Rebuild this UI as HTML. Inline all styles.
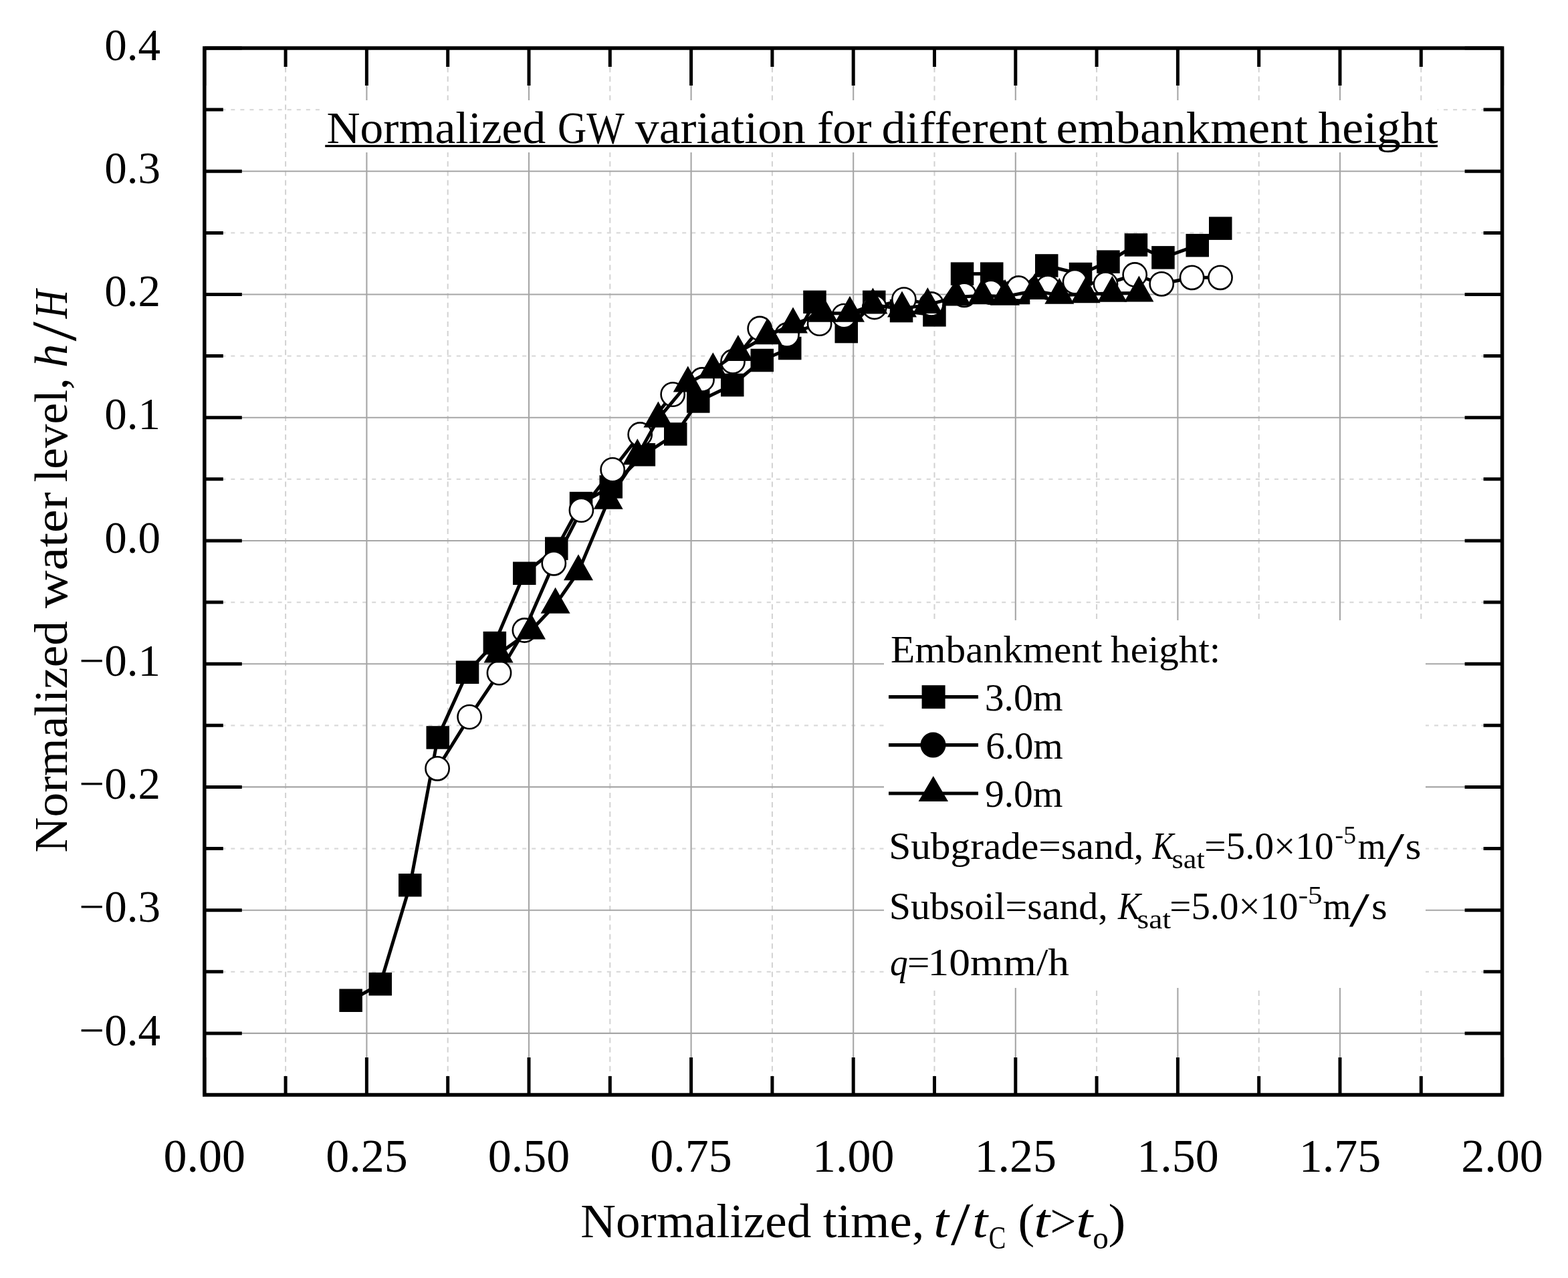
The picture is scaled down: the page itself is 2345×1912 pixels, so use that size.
<!DOCTYPE html>
<html><head><meta charset="utf-8"><title>Normalized GW variation for different embankment height</title>
<style>html,body{margin:0;padding:0;background:#fff}body{width:2345px;height:1912px;overflow:hidden}svg{display:block}</style>
</head><body>
<svg xmlns="http://www.w3.org/2000/svg" width="2345" height="1912" viewBox="0 0 2345 1912" font-family="Liberation Serif, serif">
<rect x="0" y="0" width="2345" height="1912" fill="#fff"/>
<path d="M427.1 72.0V1638.0 M669.7 72.0V1638.0 M912.3 72.0V1638.0 M1154.9 72.0V1638.0 M1397.5 72.0V1638.0 M1640.1 72.0V1638.0 M1882.7 72.0V1638.0 M2125.3 72.0V1638.0" stroke="#d2d2d2" stroke-width="2.0" stroke-dasharray="8 6.1" fill="none"/>
<path d="M305.8 164.1H2246.6 M305.8 348.4H2246.6 M305.8 532.6H2246.6 M305.8 716.8H2246.6 M305.8 901.1H2246.6 M305.8 1085.3H2246.6 M305.8 1269.6H2246.6 M305.8 1453.8H2246.6" stroke="#dadada" stroke-width="2.2" stroke-dasharray="6 8.06" stroke-dashoffset="2.66" fill="none"/>
<path d="M548.4 72.0V1638.0 M791.0 72.0V1638.0 M1033.6 72.0V1638.0 M1276.2 72.0V1638.0 M1518.8 72.0V1638.0 M1761.4 72.0V1638.0 M2004.0 72.0V1638.0 M305.8 256.2H2246.6 M305.8 440.5H2246.6 M305.8 624.7H2246.6 M305.8 809.0H2246.6 M305.8 993.2H2246.6 M305.8 1177.4H2246.6 M305.8 1361.7H2246.6 M305.8 1545.9H2246.6" stroke="#a6a6a6" stroke-width="2.1" fill="none"/>
<rect x="483" y="150" width="1667" height="78" fill="#fff"/>
<rect x="1322" y="928" width="810" height="550" fill="#fff"/>
<path d="M305.8 72.0v56M305.8 1638.0v-56M548.4 72.0v56M548.4 1638.0v-56M791.0 72.0v56M791.0 1638.0v-56M1033.6 72.0v56M1033.6 1638.0v-56M1276.2 72.0v56M1276.2 1638.0v-56M1518.8 72.0v56M1518.8 1638.0v-56M1761.4 72.0v56M1761.4 1638.0v-56M2004.0 72.0v56M2004.0 1638.0v-56M2246.6 72.0v56M2246.6 1638.0v-56M427.1 72.0v28M427.1 1638.0v-28M669.7 72.0v28M669.7 1638.0v-28M912.3 72.0v28M912.3 1638.0v-28M1154.9 72.0v28M1154.9 1638.0v-28M1397.5 72.0v28M1397.5 1638.0v-28M1640.1 72.0v28M1640.1 1638.0v-28M1882.7 72.0v28M1882.7 1638.0v-28M2125.3 72.0v28M2125.3 1638.0v-28M305.8 72.0h56M2246.6 72.0h-56M305.8 256.2h56M2246.6 256.2h-56M305.8 440.5h56M2246.6 440.5h-56M305.8 624.7h56M2246.6 624.7h-56M305.8 809.0h56M2246.6 809.0h-56M305.8 993.2h56M2246.6 993.2h-56M305.8 1177.4h56M2246.6 1177.4h-56M305.8 1361.7h56M2246.6 1361.7h-56M305.8 1545.9h56M2246.6 1545.9h-56M305.8 164.1h28M2246.6 164.1h-28M305.8 348.4h28M2246.6 348.4h-28M305.8 532.6h28M2246.6 532.6h-28M305.8 716.8h28M2246.6 716.8h-28M305.8 901.1h28M2246.6 901.1h-28M305.8 1085.3h28M2246.6 1085.3h-28M305.8 1269.6h28M2246.6 1269.6h-28M305.8 1453.8h28M2246.6 1453.8h-28" stroke="#000" stroke-width="5" fill="none"/>
<rect x="305.8" y="72.0" width="1940.8" height="1566.0" fill="none" stroke="#000" stroke-width="5.5"/>
<polyline points="524.6,1496.7 568.7,1472.3 613.3,1324.3 654.7,1103.4 699.0,1005.8 739.9,962.0 784.2,857.8 832.2,820.6 869.0,753.0 913.7,728.4 962.9,680.2 1010.3,649.5 1044.3,600.5 1095.2,576.0 1139.7,539.0 1181.3,521.0 1218.5,451.8 1265.8,496.0 1307.3,451.8 1348.0,465.0 1397.5,471.3 1439.0,409.7 1483.2,409.6 1523.0,438.0 1565.2,397.5 1616.0,410.0 1657.5,391.6 1698.9,366.5 1739.5,385.4 1790.8,367.1 1825.2,341.7" fill="none" stroke="#000" stroke-width="5.0" stroke-linejoin="round"/>
<g fill="#000"><rect x="507.4" y="1479.5" width="34.5" height="34.5"/><rect x="551.5" y="1455.0" width="34.5" height="34.5"/><rect x="596.0" y="1307.0" width="34.5" height="34.5"/><rect x="637.5" y="1086.2" width="34.5" height="34.5"/><rect x="681.8" y="988.5" width="34.5" height="34.5"/><rect x="722.6" y="944.8" width="34.5" height="34.5"/><rect x="767.0" y="840.5" width="34.5" height="34.5"/><rect x="815.0" y="803.4" width="34.5" height="34.5"/><rect x="851.8" y="735.8" width="34.5" height="34.5"/><rect x="896.5" y="711.1" width="34.5" height="34.5"/><rect x="945.6" y="663.0" width="34.5" height="34.5"/><rect x="993.0" y="632.2" width="34.5" height="34.5"/><rect x="1027.0" y="583.2" width="34.5" height="34.5"/><rect x="1078.0" y="558.8" width="34.5" height="34.5"/><rect x="1122.5" y="521.8" width="34.5" height="34.5"/><rect x="1164.0" y="503.8" width="34.5" height="34.5"/><rect x="1201.2" y="434.6" width="34.5" height="34.5"/><rect x="1248.5" y="478.8" width="34.5" height="34.5"/><rect x="1290.0" y="434.6" width="34.5" height="34.5"/><rect x="1330.8" y="447.8" width="34.5" height="34.5"/><rect x="1380.2" y="454.1" width="34.5" height="34.5"/><rect x="1421.8" y="392.4" width="34.5" height="34.5"/><rect x="1466.0" y="392.4" width="34.5" height="34.5"/><rect x="1505.8" y="420.8" width="34.5" height="34.5"/><rect x="1548.0" y="380.2" width="34.5" height="34.5"/><rect x="1598.8" y="392.8" width="34.5" height="34.5"/><rect x="1640.2" y="374.4" width="34.5" height="34.5"/><rect x="1681.7" y="349.2" width="34.5" height="34.5"/><rect x="1722.2" y="368.1" width="34.5" height="34.5"/><rect x="1773.5" y="349.9" width="34.5" height="34.5"/><rect x="1808.0" y="324.4" width="34.5" height="34.5"/></g>
<polyline points="654.1,1149.8 702.1,1072.6 746.5,1006.7 784.4,943.0 828.3,842.8 869.4,763.2 916.2,702.8 957.2,650.0 1006.2,590.1 1050.0,568.0 1096.0,541.0 1136.2,491.5 1177.0,501.0 1225.6,484.2 1262.2,472.6 1307.8,459.5 1351.9,448.1 1393.0,455.0 1442.0,441.4 1482.0,437.4 1523.4,431.0 1567.0,430.0 1607.5,421.6 1653.5,425.0 1697.2,411.0 1737.2,424.8 1782.6,415.3 1825.0,415.3" fill="none" stroke="#000" stroke-width="5.0" stroke-linejoin="round"/>
<g fill="#fff" stroke="#000" stroke-width="2.6"><circle cx="654.1" cy="1149.8" r="17.6"/><circle cx="702.1" cy="1072.6" r="17.6"/><circle cx="746.5" cy="1006.7" r="17.6"/><circle cx="784.4" cy="943.0" r="17.6"/><circle cx="828.3" cy="842.8" r="17.6"/><circle cx="869.4" cy="763.2" r="17.6"/><circle cx="916.2" cy="702.8" r="17.6"/><circle cx="957.2" cy="650.0" r="17.6"/><circle cx="1006.2" cy="590.1" r="17.6"/><circle cx="1050.0" cy="568.0" r="17.6"/><circle cx="1096.0" cy="541.0" r="17.6"/><circle cx="1136.2" cy="491.5" r="17.6"/><circle cx="1177.0" cy="501.0" r="17.6"/><circle cx="1225.6" cy="484.2" r="17.6"/><circle cx="1262.2" cy="472.6" r="17.6"/><circle cx="1307.8" cy="459.5" r="17.6"/><circle cx="1351.9" cy="448.1" r="17.6"/><circle cx="1393.0" cy="455.0" r="17.6"/><circle cx="1442.0" cy="441.4" r="17.6"/><circle cx="1482.0" cy="437.4" r="17.6"/><circle cx="1523.4" cy="431.0" r="17.6"/><circle cx="1567.0" cy="430.0" r="17.6"/><circle cx="1607.5" cy="421.6" r="17.6"/><circle cx="1653.5" cy="425.0" r="17.6"/><circle cx="1697.2" cy="411.0" r="17.6"/><circle cx="1737.2" cy="424.8" r="17.6"/><circle cx="1782.6" cy="415.3" r="17.6"/><circle cx="1825.0" cy="415.3" r="17.6"/></g>
<polyline points="745.6,978.4 794.0,943.5 830.6,904.7 865.0,855.3 909.7,748.7 953.3,682.2 984.4,626.5 1028.8,573.4 1066.3,553.3 1103.9,527.0 1147.5,502.2 1186.0,485.6 1231.0,468.7 1271.0,468.7 1305.4,456.5 1349.0,461.6 1387.3,456.1 1430.5,444.4 1469.2,442.2 1503.0,443.7 1547.4,435.1 1584.3,441.7 1623.6,440.2 1663.4,438.8 1703.4,438.6" fill="none" stroke="#000" stroke-width="5.0" stroke-linejoin="round"/>
<g fill="#000"><path d="M745.6 952.4L767.6 991.4H723.6Z"/><path d="M794.0 917.5L816.0 956.5H772.0Z"/><path d="M830.6 878.7L852.6 917.7H808.6Z"/><path d="M865.0 829.3L887.0 868.3H843.0Z"/><path d="M909.7 722.7L931.7 761.7H887.7Z"/><path d="M953.3 656.2L975.3 695.2H931.3Z"/><path d="M984.4 600.5L1006.4 639.5H962.4Z"/><path d="M1028.8 547.4L1050.8 586.4H1006.8Z"/><path d="M1066.3 527.3L1088.3 566.3H1044.3Z"/><path d="M1103.9 501.0L1125.9 540.0H1081.9Z"/><path d="M1147.5 476.2L1169.5 515.2H1125.5Z"/><path d="M1186.0 459.6L1208.0 498.6H1164.0Z"/><path d="M1231.0 442.7L1253.0 481.7H1209.0Z"/><path d="M1271.0 442.7L1293.0 481.7H1249.0Z"/><path d="M1305.4 430.5L1327.4 469.5H1283.4Z"/><path d="M1349.0 435.6L1371.0 474.6H1327.0Z"/><path d="M1387.3 430.1L1409.3 469.1H1365.3Z"/><path d="M1430.5 418.4L1452.5 457.4H1408.5Z"/><path d="M1469.2 416.2L1491.2 455.2H1447.2Z"/><path d="M1503.0 417.7L1525.0 456.7H1481.0Z"/><path d="M1547.4 409.1L1569.4 448.1H1525.4Z"/><path d="M1584.3 415.7L1606.3 454.7H1562.3Z"/><path d="M1623.6 414.2L1645.6 453.2H1601.6Z"/><path d="M1663.4 412.8L1685.4 451.8H1641.4Z"/><path d="M1703.4 412.6L1725.4 451.6H1681.4Z"/></g>
<text x="240" y="89.6" font-size="67" text-anchor="end">0.4</text>
<text x="240" y="273.8" font-size="67" text-anchor="end">0.3</text>
<text x="240" y="458.1" font-size="67" text-anchor="end">0.2</text>
<text x="240" y="642.3" font-size="67" text-anchor="end">0.1</text>
<text x="240" y="826.6" font-size="67" text-anchor="end">0.0</text>
<text x="240" y="1010.8" font-size="67" text-anchor="end">−0.1</text>
<text x="240" y="1195.0" font-size="67" text-anchor="end">−0.2</text>
<text x="240" y="1379.3" font-size="67" text-anchor="end">−0.3</text>
<text x="240" y="1563.5" font-size="67" text-anchor="end">−0.4</text>
<text x="305.8" y="1752.5" font-size="70" text-anchor="middle">0.00</text>
<text x="548.4" y="1752.5" font-size="70" text-anchor="middle">0.25</text>
<text x="791.0" y="1752.5" font-size="70" text-anchor="middle">0.50</text>
<text x="1033.6" y="1752.5" font-size="70" text-anchor="middle">0.75</text>
<text x="1276.2" y="1752.5" font-size="70" text-anchor="middle">1.00</text>
<text x="1518.8" y="1752.5" font-size="70" text-anchor="middle">1.25</text>
<text x="1761.4" y="1752.5" font-size="70" text-anchor="middle">1.50</text>
<text x="2004.0" y="1752.5" font-size="70" text-anchor="middle">1.75</text>
<text x="2246.6" y="1752.5" font-size="70" text-anchor="middle">2.00</text>
<text x="488.5" y="213.5" font-size="67.8" textLength="327.6" lengthAdjust="spacingAndGlyphs">Normalized</text>
<text x="833.9" y="213.5" font-size="67.8" textLength="99.9" lengthAdjust="spacingAndGlyphs">GW</text>
<text x="949.8" y="213.5" font-size="67.8" textLength="255.2" lengthAdjust="spacingAndGlyphs">variation</text>
<text x="1221.9" y="213.5" font-size="67.8" textLength="81.7" lengthAdjust="spacingAndGlyphs">for</text>
<text x="1318.4" y="213.5" font-size="67.8" textLength="247.6" lengthAdjust="spacingAndGlyphs">different</text>
<text x="1579.5" y="213.5" font-size="67.8" textLength="376.4" lengthAdjust="spacingAndGlyphs">embankment</text>
<text x="1971.5" y="213.5" font-size="67.8" textLength="179.1" lengthAdjust="spacingAndGlyphs">height</text>
<text x="868.3" y="1850.6" font-size="71.5" textLength="344.9" lengthAdjust="spacingAndGlyphs">Normalized</text>
<text x="1230.8" y="1850.6" font-size="71.5" textLength="151.7" lengthAdjust="spacingAndGlyphs">time,</text>
<text x="1396.2" y="1850.6" font-size="71.5" font-style="italic" textLength="22.7" lengthAdjust="spacingAndGlyphs">t</text>
<text x="1422.1" y="1861.6" font-size="91.78" textLength="28.8" lengthAdjust="spacingAndGlyphs">/</text>
<text x="1454.3" y="1850.6" font-size="71.5" font-style="italic" textLength="22.9" lengthAdjust="spacingAndGlyphs">t</text>
<text x="1478.8" y="1868.3" font-size="48" textLength="25.6" lengthAdjust="spacingAndGlyphs">C</text>
<text x="1522.4" y="1850.6" font-size="71.5" textLength="24.7" lengthAdjust="spacingAndGlyphs">(</text>
<text x="1546.3" y="1850.6" font-size="71.5" font-style="italic" textLength="23.8" lengthAdjust="spacingAndGlyphs">t</text>
<text x="1570.4" y="1850.6" font-size="71.5" textLength="39.0" lengthAdjust="spacingAndGlyphs">&gt;</text>
<text x="1609.0" y="1850.6" font-size="71.5" font-style="italic" textLength="25.0" lengthAdjust="spacingAndGlyphs">t</text>
<text x="1634.3" y="1868.3" font-size="48" textLength="23.6" lengthAdjust="spacingAndGlyphs">o</text>
<text x="1657.6" y="1850.6" font-size="71.5" textLength="25.9" lengthAdjust="spacingAndGlyphs">)</text>
<text x="1332.1" y="991.3" font-size="56" textLength="316.4" lengthAdjust="spacingAndGlyphs">Embankment</text>
<text x="1661.1" y="991.3" font-size="56" textLength="164.2" lengthAdjust="spacingAndGlyphs">height:</text>
<text x="1472.8" y="1063.4" font-size="56" textLength="116.9" lengthAdjust="spacingAndGlyphs">3.0m</text>
<text x="1474.2" y="1135.1" font-size="56" textLength="115.5" lengthAdjust="spacingAndGlyphs">6.0m</text>
<text x="1472.9" y="1206.9" font-size="56" textLength="116.7" lengthAdjust="spacingAndGlyphs">9.0m</text>
<text x="1329.2" y="1284.8" font-size="56" textLength="381.2" lengthAdjust="spacingAndGlyphs">Subgrade=sand,</text>
<text x="1723.6" y="1284.8" font-size="56" font-style="italic" textLength="32.1" lengthAdjust="spacingAndGlyphs">K</text>
<text x="1752.6" y="1298.8" font-size="40" textLength="49.2" lengthAdjust="spacingAndGlyphs">sat</text>
<text x="1801.3" y="1284.8" font-size="56" textLength="193.3" lengthAdjust="spacingAndGlyphs">=5.0×10</text>
<text x="1996.6" y="1261.8" font-size="38" textLength="31.5" lengthAdjust="spacingAndGlyphs">-5</text>
<text x="2030.7" y="1284.8" font-size="56" textLength="41.8" lengthAdjust="spacingAndGlyphs">m</text>
<text x="2069.9" y="1295.0" font-size="72.66" textLength="30.3" lengthAdjust="spacingAndGlyphs">/</text>
<text x="2101.8" y="1284.8" font-size="56" textLength="23.7" lengthAdjust="spacingAndGlyphs">s</text>
<text x="1329.8" y="1375.0" font-size="56" textLength="327.0" lengthAdjust="spacingAndGlyphs">Subsoil=sand,</text>
<text x="1671.9" y="1375.0" font-size="56" font-style="italic" textLength="34.0" lengthAdjust="spacingAndGlyphs">K</text>
<text x="1700.6" y="1389.0" font-size="40" textLength="50.4" lengthAdjust="spacingAndGlyphs">sat</text>
<text x="1749.3" y="1375.0" font-size="56" textLength="192.2" lengthAdjust="spacingAndGlyphs">=5.0×10</text>
<text x="1941.7" y="1352.0" font-size="38" textLength="36.0" lengthAdjust="spacingAndGlyphs">-5</text>
<text x="1978.5" y="1375.0" font-size="56" textLength="41.8" lengthAdjust="spacingAndGlyphs">m</text>
<text x="2017.7" y="1385.2" font-size="72.66" textLength="30.3" lengthAdjust="spacingAndGlyphs">/</text>
<text x="2051.1" y="1375.0" font-size="56" textLength="23.7" lengthAdjust="spacingAndGlyphs">s</text>
<text x="1330.9" y="1459.2" font-size="56" font-style="italic" textLength="26.7" lengthAdjust="spacingAndGlyphs">q</text>
<text x="1357.1" y="1459.2" font-size="56" textLength="33.4" lengthAdjust="spacingAndGlyphs">=</text>
<text x="1387.6" y="1459.2" font-size="56" textLength="211.5" lengthAdjust="spacingAndGlyphs">10mm/h</text>
<g transform="translate(99.7 1273.4) rotate(-90)"><text x="-2.1" y="0.0" font-size="69.8" textLength="346.5" lengthAdjust="spacingAndGlyphs">Normalized</text><text x="363.5" y="0.0" font-size="69.8" textLength="173.8" lengthAdjust="spacingAndGlyphs">water</text><text x="551.8" y="0.0" font-size="69.8" textLength="156.4" lengthAdjust="spacingAndGlyphs">level,</text><text x="723.5" y="0.0" font-size="69.8" font-style="italic" textLength="35.4" lengthAdjust="spacingAndGlyphs">h</text><text x="762.8" y="13.6" font-size="95.05" textLength="29.3" lengthAdjust="spacingAndGlyphs">/</text><text x="797.0" y="0.0" font-size="69.8" font-style="italic" textLength="42.8" lengthAdjust="spacingAndGlyphs">H</text></g>
<rect x="486.2" y="216.8" width="1663.8" height="3.3" fill="#000"/>
<path d="M1329 1042.7H1463" stroke="#000" stroke-width="5.2"/>
<path d="M1329 1114.6H1463" stroke="#000" stroke-width="5.2"/>
<path d="M1329 1187H1463" stroke="#000" stroke-width="5.2"/>
<rect x="1378.6" y="1025.2" width="35" height="35" fill="#000"/>
<circle cx="1395.5" cy="1114.6" r="19" fill="#000"/>
<path d="M1395.8 1161L1418 1199.1H1373.6Z" fill="#000"/>
</svg>
</body></html>
